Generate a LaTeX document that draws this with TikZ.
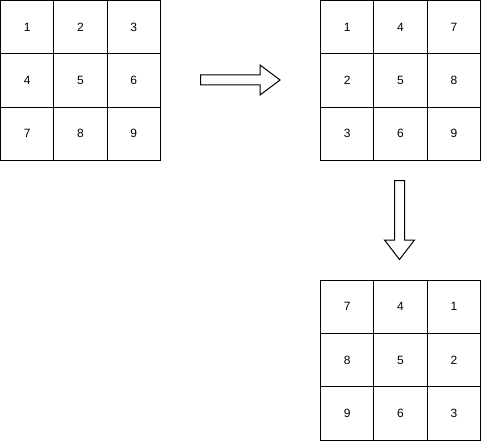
\documentclass[tikz,border=0pt]{standalone}
\usepackage{fontspec}
\setmainfont{Liberation Sans}

\begin{document}
\begin{tikzpicture}[x=1pt, y=-1pt,
  cell/.style={draw, line width=1pt, minimum size=53.33pt, inner sep=0pt, font=\fontsize{12}{14}\selectfont},
  blockarrow/.style={draw, line width=1pt, fill=white, line join=miter}]
  \useasboundingbox (0,0) rectangle (481,441);

  % three grids: original, transposed, rotated
  \foreach \r in {0,1,2} {
    \foreach \c in {0,1,2} {
      \pgfmathtruncatemacro{\va}{3*\r+\c+1}
      \pgfmathtruncatemacro{\vb}{3*\c+\r+1}
      \pgfmathtruncatemacro{\vc}{7-3*\c+\r}
      \node[cell] (a\va) at ({27.17+53.33*\c}, {27.17+53.33*\r}) {\va};
      \node[cell] (b\vb) at ({347.17+53.33*\c}, {27.17+53.33*\r}) {\vb};
      \node[cell] (c\vc) at ({347.17+53.33*\c}, {306.67+53.33*\r}) {\vc};
    }
  }

  % block arrows
  \draw[blockarrow] (200.5,75) -- (260,75) -- (260,65) -- (280,80) -- (260,95) -- (260,85) -- (200.5,85) -- cycle;
  \draw[blockarrow] (394.5,180.5) -- (404.5,180.5) -- (404.5,240) -- (414.5,240) -- (399.5,259.5) -- (384.5,240) -- (394.5,240) -- cycle;
\end{tikzpicture}
\end{document}
